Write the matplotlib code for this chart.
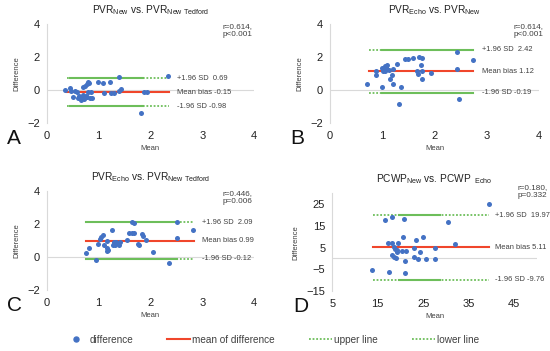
import numpy as np
import matplotlib
matplotlib.use("Agg")
import matplotlib.pyplot as plt
from matplotlib.lines import Line2D

plt.rcParams['font.family'] = ['Liberation Sans', 'DejaVu Sans']
plt.rcParams['mathtext.fontset'] = 'custom'
plt.rcParams['mathtext.rm'] = 'Liberation Sans'

# --- data: (mean, difference) pairs per panel ---
a_mean = [0.36, 0.45, 0.46, 0.50, 0.54, 0.59, 0.61, 0.64, 0.66, 0.68, 0.70, 0.71,
          0.74, 0.74, 0.77, 0.78, 0.80, 0.80, 0.82, 0.83, 0.85, 0.87, 0.99, 1.08,
          1.10, 1.22, 1.24, 1.29, 1.39, 1.40, 1.43, 1.82, 1.87, 1.93, 2.33, 0.63,
          0.69, 0.72, 0.76]
a_diff = [0.00, 0.10, -0.06, -0.41, -0.06, -0.14, -0.51, -0.41, -0.59, -0.47, 0.20, -0.51,
          0.26, -0.41, -0.43, 0.35, -0.10, 0.50, 0.41, -0.47, -0.10, -0.47, 0.45, 0.41,
          -0.20, 0.47, -0.20, -0.20, -0.04, 0.75, 0.06, -1.38, -0.10, -0.10, 0.85, -0.35,
          -0.30, -0.55, -0.38]

b_mean = [0.70, 0.88, 0.88, 1.00, 0.99, 1.02, 1.05, 1.08, 1.10, 1.05, 1.12, 1.15,
          1.19, 1.21, 1.21, 1.29, 1.36, 1.32, 1.43, 1.50, 1.59, 1.66, 1.68, 1.71,
          1.74, 1.76, 1.76, 1.76, 1.94, 2.44, 2.44, 2.47, 2.74, 1.03, 1.07]
b_diff = [0.37, 1.16, 0.88, 0.16, 1.33, 1.16, 1.43, 1.33, 1.51, 1.12, 1.22, 0.67,
          0.88, 1.28, 0.37, 1.57, 0.20, -0.88, 1.88, 1.90, 1.96, 1.12, 0.98, 1.98,
          1.53, 1.92, 1.16, 0.67, 1.02, 2.30, 1.28, -0.55, 1.79, 1.25, 1.40]

c_mean = [0.76, 0.81, 0.95, 0.99, 1.03, 1.05, 1.08, 1.10, 1.16, 1.16, 1.17, 1.19,
          1.25, 1.28, 1.29, 1.32, 1.35, 1.39, 1.42, 1.54, 1.59, 1.65, 1.65, 1.69,
          1.69, 1.76, 1.77, 1.84, 1.85, 1.92, 2.05, 2.35, 2.52, 2.52, 2.83, 1.30,
          1.34]
c_diff = [0.26, 0.55, -0.16, 0.81, 1.08, 1.22, 1.32, 0.71, 0.95, 0.37, 0.57, 0.45,
          1.62, 0.73, 0.91, 0.71, 0.85, 0.71, 0.91, 1.05, 1.48, 1.48, 2.09, 2.03,
          1.46, 0.81, 0.71, 1.42, 1.26, 1.01, 0.30, -0.37, 2.13, 1.12, 1.62, 0.80,
          0.90]

d_mean = [13.7, 16.7, 17.4, 17.3, 18.2, 18.2, 18.2, 18.6, 18.6, 18.8, 19.1, 19.2,
          19.3, 19.4, 20.3, 20.6, 20.8, 21.0, 21.3, 21.1, 23.0, 23.0, 23.4, 23.9,
          24.3, 24.9, 25.6, 27.7, 27.7, 30.4, 31.9, 39.4]
d_diff = [-5.5, 17.8, -6.3, 7.1, 19.0, 7.1, 1.4, 5.2, 0.9, 4.3, 0.2, 2.8,
          4.0, 7.1, 3.5, 9.8, 18.4, -1.4, 3.5, -6.7, 0.5, 4.8, 8.6, -0.3,
          3.2, 9.7, -0.3, -0.2, 4.9, 17.0, 6.7, 25.0]

titles = [r"PVR$_{\mathrm{New}}$ vs. PVR$_{\mathrm{New\ Tedford}}$",
          r"PVR$_{\mathrm{Echo}}$ vs. PVR$_{\mathrm{New}}$",
          r"PVR$_{\mathrm{Echo}}$ vs. PVR$_{\mathrm{New\ Tedford}}$",
          r"PCWP$_{\mathrm{New}}$ vs. PCWP$_{\mathrm{\ \ Echo}}$"]
letters = ["A", "B", "C", "D"]
stats = ["r=0.614,\np<0.001", "r=0.614,\np<0.001", "r=0.446,\np=0.006", "r=0.180,\np=0.332"]
upper = [0.69, 2.42, 2.09, 19.97]
bias = [-0.15, 1.12, 0.99, 5.11]
lower = [-0.98, -0.19, -0.12, -9.76]

BLUE = "#4472C4"
RED = "#F0462B"
GREEN = "#6DBE5A"
GRAY = "#D9D9D9"
TXT = "#404040"

fig = plt.figure(figsize=(5.5, 3.51), dpi=100)

# per panel: axes rect, limits, ticks, line span, solid part of limit lines,
# label x, position of the r/p note (axes fraction)
panels = [
    dict(rect=[0.085, 0.650, 0.377, 0.282], xlim=(0, 4), ylim=(-2, 4),
         xt=[0, 1, 2, 3, 4], yt=[-2, 0, 2, 4], span=(0.40, 2.35), solid=(0.45, 1.85),
         lx=2.52, note=(0.85, 1.005), x=a_mean, y=a_diff),
    dict(rect=[0.600, 0.650, 0.380, 0.282], xlim=(0, 4), ylim=(-2, 4),
         xt=[0, 1, 2, 3, 4], yt=[-2, 0, 2, 4], span=(0.75, 2.74), solid=(1.0, 2.74),
         lx=2.90, note=(0.88, 1.005), x=b_mean, y=b_diff),
    dict(rect=[0.085, 0.174, 0.377, 0.282], xlim=(0, 4), ylim=(-2, 4),
         xt=[0, 1, 2, 3, 4], yt=[-2, 0, 2, 4], span=(0.76, 2.84), solid=(0.76, 2.52),
         lx=3.00, note=(0.85, 1.005), x=c_mean, y=c_diff),
    dict(rect=[0.604, 0.171, 0.372, 0.278], xlim=(5, 50), ylim=(-15, 30),
         xt=[5, 15, 25, 35, 45], yt=[-15, -5, 5, 15, 25], span=(13.9, 39.5), solid=(19.7, 28.6),
         lx=40.8, note=(0.905, 1.095), x=d_mean, y=d_diff),
]

for i, p in enumerate(panels):
    ax = fig.add_axes(p['rect'])
    ax.set_xlim(*p['xlim'])
    ax.set_ylim(*p['ylim'])
    ax.set_xticks(p['xt'])
    ax.set_yticks(p['yt'])
    for s in ['top', 'right', 'bottom']:
        ax.spines[s].set_visible(False)
    ax.spines['left'].set_color(GRAY)
    ax.spines['left'].set_linewidth(0.8)
    ax.tick_params(length=0, labelsize=8, colors='#222222')
    ax.tick_params(axis='x', pad=6)
    ax.tick_params(axis='y', pad=5)
    ax.axhline(0, color=GRAY, lw=0.8, zorder=1)

    x0, x1 = p['span']
    s0, s1 = p['solid']
    for v in (upper[i], lower[i]):
        ax.plot([x0, x1], [v, v], color=GREEN, lw=1.3, ls=(0, (1, 1)), zorder=2)
        ax.plot([s0, s1], [v, v], color=GREEN, lw=1.5, zorder=2)
    ax.plot([x0, x1], [bias[i], bias[i]], color=RED, lw=1.5, zorder=3)
    ax.scatter(p['x'], p['y'], s=13, color=BLUE, zorder=4, linewidths=0)

    lx = p['lx']
    ax.text(lx, upper[i], "+1.96 SD  %.2f" % upper[i], fontsize=5.4, color=TXT, va='center')
    ax.text(lx, bias[i], "Mean bias %.2f" % bias[i], fontsize=5.4, color=TXT, va='center')
    ax.text(lx, lower[i], "-1.96 SD %.2f" % lower[i], fontsize=5.4, color=TXT, va='center')

    ax.set_title(titles[i], fontsize=7.3, color='#222222', pad=8)
    ax.set_xlabel("Mean", fontsize=5.5, color=TXT, labelpad=3)
    ax.set_ylabel("Difference", fontsize=5.5, color=TXT, labelpad=5)
    ax.text(p['note'][0], p['note'][1], stats[i], transform=ax.transAxes, fontsize=5.9,
            color=TXT, va='top', ha='left', linespacing=1.15)
    ax.text(-0.19, -0.16, letters[i], transform=ax.transAxes, fontsize=15, color='#111111',
            va='center', ha='left')

handles = [
    Line2D([], [], ls='none', marker='o', color=BLUE, markersize=3.6),
    Line2D([], [], color=RED, lw=1.5),
    Line2D([], [], color=GREEN, lw=1.3, ls=(0, (1, 1))),
    Line2D([], [], color=GREEN, lw=1.3, ls=(0, (1, 1))),
]
fig.legend(handles, ["difference", "mean of difference", "upper line", "lower line"],
           loc='center', bbox_to_anchor=(0.494, 0.032), ncol=4, frameon=False,
           fontsize=7.2, handlelength=2.3, columnspacing=3.4, handletextpad=0.2,
           labelcolor=TXT)

fig.savefig("out.png", dpi=100)
